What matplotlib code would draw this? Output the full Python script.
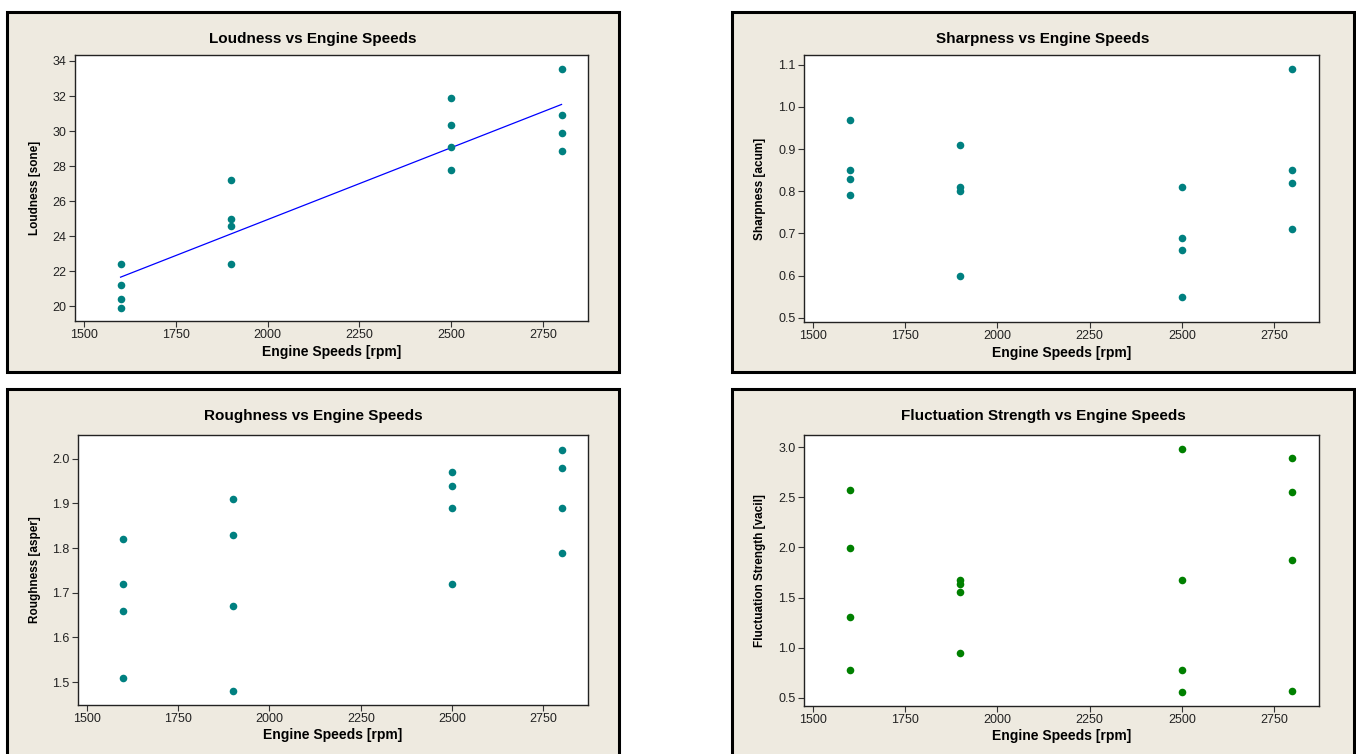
import numpy as np
import matplotlib
matplotlib.use("Agg")
import matplotlib.pyplot as plt
from matplotlib.patches import Rectangle

plt.rcParams['font.family'] = ['Liberation Sans', 'DejaVu Sans']

speeds = [1600] * 4 + [1900] * 4 + [2500] * 4 + [2800] * 4

loudness = [22.4, 21.2, 20.4, 19.9,
            27.2, 25.0, 24.6, 22.4,
            31.87, 30.36, 29.08, 27.8,
            33.54, 30.92, 29.9, 28.87]
sharpness = [0.97, 0.85, 0.83, 0.79,
             0.91, 0.81, 0.80, 0.60,
             0.81, 0.69, 0.66, 0.55,
             1.09, 0.85, 0.82, 0.71]
roughness = [1.82, 1.72, 1.66, 1.51,
             1.91, 1.83, 1.67, 1.48,
             1.97, 1.94, 1.89, 1.72,
             2.02, 1.98, 1.89, 1.79]
fluctuation = [2.57, 1.99, 1.31, 0.78,
               1.68, 1.64, 1.56, 0.95,
               2.98, 1.68, 0.78, 0.56,
               2.89, 2.55, 1.87, 0.57]

W, H = 1356, 754
fig = plt.figure(figsize=(W / 100, H / 100), dpi=100)
fig.patch.set_facecolor('white')

beige = '#EEEAE0'
teal = '#008080'
green = '#008000'

# panel frames in pixel coords (x0, y0top, x1, y1bottom)
frames = [(7, 12, 619, 372), (732, 12, 1354, 372),
          (7, 389, 619, 770), (732, 389, 1354, 770)]
for x0, y0, x1, y1 in frames:
    fig.patches.append(Rectangle((x0 / W, 1 - y1 / H), (x1 - x0) / W, (y1 - y0) / H,
                                 transform=fig.transFigure, facecolor=beige,
                                 edgecolor='black', linewidth=2.2, zorder=-10))

# axes boxes in pixels (left, top, right, bottom)
boxes = [(75, 55, 588, 321), (804, 55, 1319, 322),
         (78, 435, 588, 705), (804, 435, 1319, 706)]
ylab_x = [-0.066, -0.074, -0.073, -0.074]
xlab_y = [-0.09, -0.09, -0.085, -0.085]

panels = [
    ("Loudness vs Engine Speeds", "Loudness [sone]", loudness, teal, (19.16, 34.34), np.arange(20, 35, 2), '%d'),
    ("Sharpness vs Engine Speeds", "Sharpness [acum]", sharpness, teal, (0.49, 1.123), np.arange(0.5, 1.15, 0.1), '%.1f'),
    ("Roughness vs Engine Speeds", "Roughness [asper]", roughness, teal, (1.449, 2.053), np.arange(1.5, 2.05, 0.1), '%.1f'),
    ("Fluctuation Strength vs Engine Speeds", "Fluctuation Strength [vacil]", fluctuation, green, (0.416, 3.124), np.arange(0.5, 3.05, 0.5), '%.1f'),
]

for i, (title, ylab, vals, col, ylim, yt, fmt) in enumerate(panels):
    l, t, r, b = boxes[i]
    ax = fig.add_axes([l / W, 1 - b / H, (r - l) / W, (b - t) / H])
    ax.set_facecolor('white')
    ax.scatter(speeds, vals, s=30, color=col, zorder=3, linewidths=0)
    if i == 0:
        k, c = np.polyfit(speeds, vals, 1)
        xs = np.array([1600, 2800])
        ax.plot(xs, k * xs + c, color='#0000FF', linewidth=0.9, zorder=2)
    ax.set_xlim(1476, 2872)
    ax.set_ylim(*ylim)
    ax.set_xticks([1500, 1750, 2000, 2250, 2500, 2750])
    ax.set_yticks(yt)
    ax.set_yticklabels([fmt % v for v in yt])
    ax.tick_params(labelsize=9, length=4, width=0.8, color='#333333',
                   labelcolor='#222222', pad=2)
    for sp in ax.spines.values():
        sp.set_color('#222222')
        sp.set_linewidth(1.0)
    ax.set_xlabel("Engine Speeds [rpm]", fontsize=10, fontweight='bold')
    ax.set_ylabel(ylab, fontsize=8.5, fontweight='bold')
    ax.xaxis.set_label_coords(0.5, xlab_y[i])
    ax.yaxis.set_label_coords(ylab_x[i], 0.5)
    fx0, fy0, fx1, fy1 = frames[i]
    fig.text((fx0 + fx1) / 2 / W, 1 - (fy0 + 27) / H, title, fontsize=11,
             fontweight='bold', ha='center', va='center')

fig.savefig('out.png', dpi=100)
